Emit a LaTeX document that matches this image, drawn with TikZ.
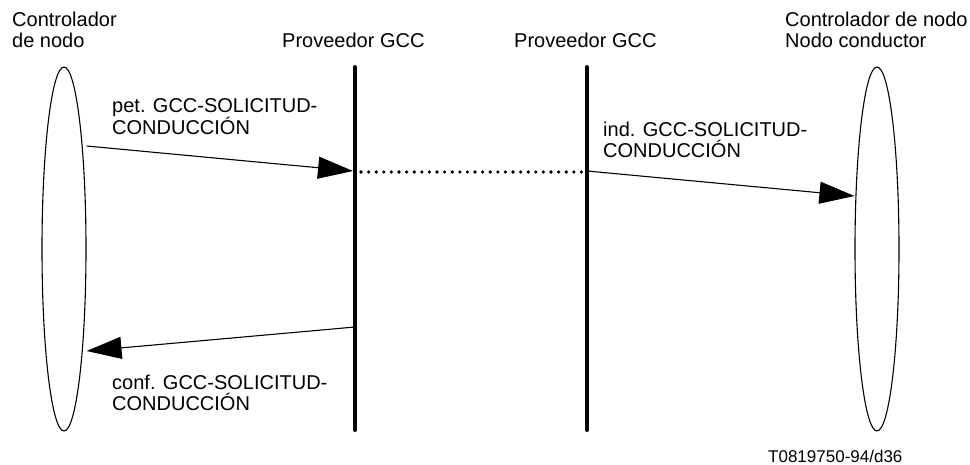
\documentclass[tikz,border=0pt]{standalone}
\usepackage{fontspec}
\setmainfont{Liberation Sans}
\usetikzlibrary{arrows.meta,shapes.geometric}
\begin{document}
\begin{tikzpicture}[x=1pt,y=-1pt,
  lbl/.style={anchor=base west,inner sep=0pt,align=left,font=\fontsize{20}{21}\selectfont},
  small/.style={anchor=base west,inner sep=0pt,font=\fontsize{17}{18}\selectfont},
  actor/.style={draw,ellipse,line width=1.1pt,minimum width=44pt,minimum height=364pt,inner sep=0pt},
  lifeline/.style={line width=4pt,line cap=round},
  msg/.style={line width=1.1pt,-{Triangle[length=35pt,width=22pt]}},
  dots/.style={line width=3.6pt,line cap=round,dash pattern=on 0pt off 7.6pt}]
\useasboundingbox (0,0) rectangle (970,465);
% actors
\node[actor] (L) at (64,249) {};
\node[actor] (R) at (877,249) {};
% lifelines
\coordinate (P1t) at (355,67);
\coordinate (P1b) at (355,430);
\coordinate (P2t) at (587,67);
\coordinate (P2b) at (587,430);
\draw[lifeline] (P1t) -- (P1b);
\draw[lifeline] (P2t) -- (P2b);
% headers (base anchor = baseline of last line)
\node[lbl] (hL) at (12,48) {Controlador\\de nodo};
\node[lbl] (hP1) at (282,48) {Proveedor GCC};
\node[lbl] (hP2) at (514,48) {Proveedor GCC};
\node[lbl] (hR) at (785,48) {Controlador de nodo\\Nodo conductor};
% messages
\draw[msg] (L.east |- 0,146) -- ([xshift=-2pt]P1t |- 0,171);
\draw[dots] ([xshift=6pt]P1t |- 0,172) -- ([xshift=-4pt]P2t |- 0,172);
\draw[msg] (P2t |- 0,171) -- (R.west |- 0,196);
\draw[msg] (P1t |- 0,327) -- (L.east |- 0,351);
% message labels
\node[lbl] (m1) at (112,135) {pet. GCC-SOLICITUD-\\CONDUCCIÓN};
\node[lbl] (m2) at (603,158) {ind. GCC-SOLICITUD-\\CONDUCCIÓN};
\node[lbl] (m3) at (112,410) {conf. GCC-SOLICITUD-\\CONDUCCIÓN};
\node[small] (ref) at (768,462) {T0819750-94/d36};
\end{tikzpicture}
\end{document}
